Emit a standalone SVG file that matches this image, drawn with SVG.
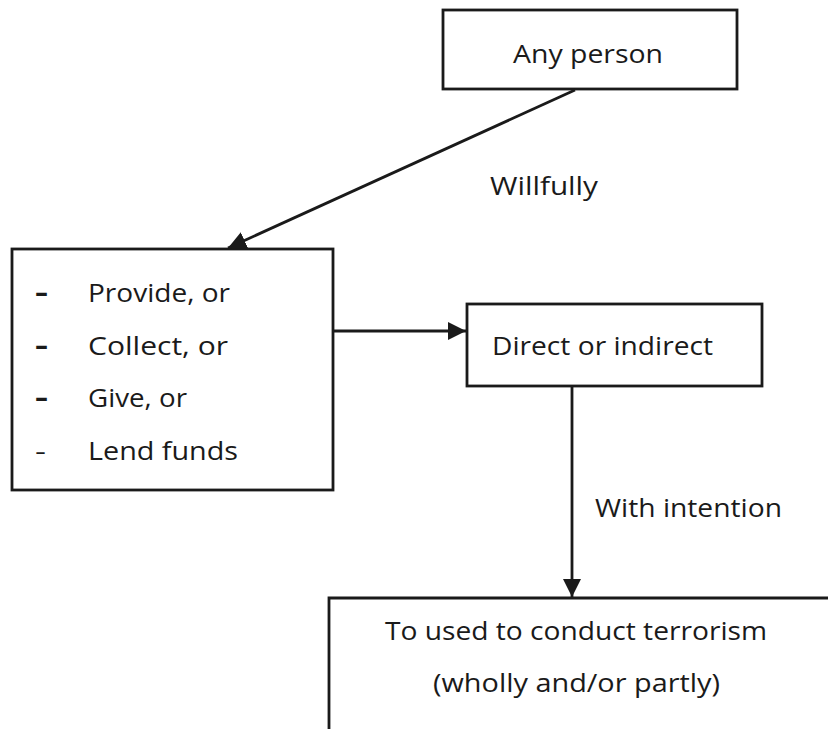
<svg xmlns="http://www.w3.org/2000/svg" width="828" height="729" viewBox="0 0 828 729">
<style>
.box{fill:#fff;stroke:#1a1a1a;stroke-width:2.8}
.con{fill:none;stroke:#1a1a1a;stroke-width:2.8}
text{font-family:"Open Sans","Noto Sans",sans-serif;font-size:26px;fill:#1a1a1a}
.dash{font-weight:bold}
</style>
<defs>
<marker id="ah" viewBox="0 0 10 10" refX="10" refY="5" markerWidth="6.5" markerHeight="6.5" orient="auto" markerUnits="strokeWidth">
<path d="M0,0 L10,5 L0,10 z" fill="#1a1a1a"/>
</marker>
</defs>
<rect width="828" height="729" fill="#fff"/>
<g id="node-any-person">
<rect class="box" x="443" y="10" width="294" height="79"/>
<text x="513" y="63" textLength="150" lengthAdjust="spacingAndGlyphs">Any person</text>
</g>
<g id="node-actions">
<rect class="box" x="12" y="249" width="321" height="241"/>
<text class="dash" x="35" y="302" textLength="13" lengthAdjust="spacingAndGlyphs">-</text><text x="88" y="302" textLength="142" lengthAdjust="spacingAndGlyphs">Provide, or</text>
<text class="dash" x="35" y="355" textLength="13" lengthAdjust="spacingAndGlyphs">-</text><text x="88" y="355" textLength="140" lengthAdjust="spacingAndGlyphs">Collect, or</text>
<text class="dash" x="35" y="407" textLength="13" lengthAdjust="spacingAndGlyphs">-</text><text x="88" y="407" textLength="99" lengthAdjust="spacingAndGlyphs">Give, or</text>
<text x="35" y="460" textLength="11" lengthAdjust="spacingAndGlyphs">-</text><text x="88" y="460" textLength="150" lengthAdjust="spacingAndGlyphs">Lend funds</text>
</g>
<g id="node-direct">
<rect class="box" x="467" y="304" width="295" height="82"/>
<text x="492" y="355" textLength="221" lengthAdjust="spacingAndGlyphs">Direct or indirect</text>
</g>
<g id="node-terrorism">
<path class="con" d="M329,729 V598 H828"/>
<text x="385" y="640" textLength="382" lengthAdjust="spacingAndGlyphs">To used to conduct terrorism</text>
<text x="433" y="692" textLength="287" lengthAdjust="spacingAndGlyphs">(wholly and/or partly)</text>
</g>
<g id="connectors">
<line class="con" x1="575" y1="90" x2="228" y2="248" marker-end="url(#ah)"/>
<line class="con" x1="333" y1="331" x2="466" y2="331" marker-end="url(#ah)"/>
<line class="con" x1="572" y1="386" x2="572" y2="597" marker-end="url(#ah)"/>
<text x="490" y="195" textLength="108" lengthAdjust="spacingAndGlyphs">Willfully</text>
<text x="595" y="517" textLength="187" lengthAdjust="spacingAndGlyphs">With intention</text>
</g>
</svg>
